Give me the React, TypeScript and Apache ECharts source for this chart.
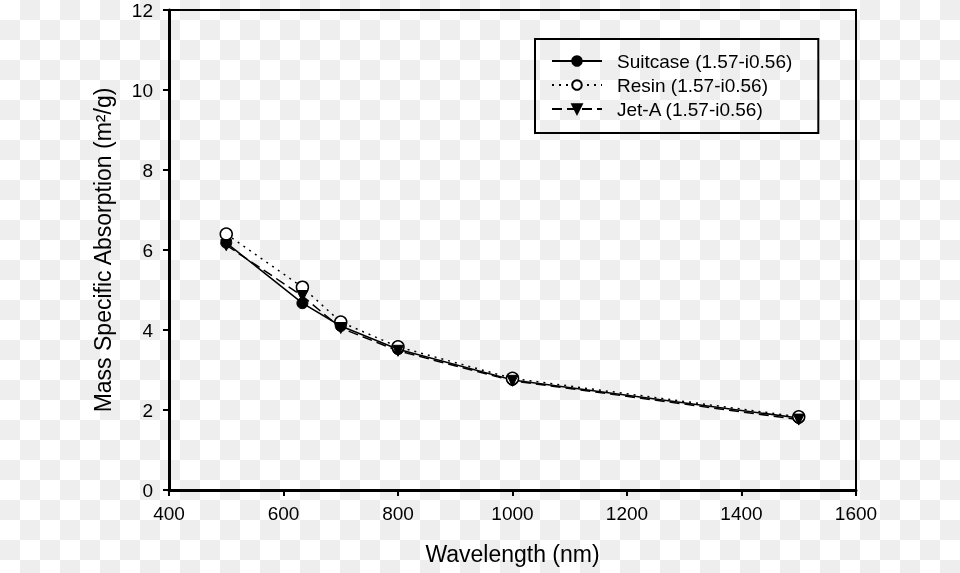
import React, { useEffect, useRef } from "react";
import * as echarts from "echarts";

const wavelengths = [500, 633, 700, 800, 1000, 1500];
const suitcase = [6.18, 4.67, 4.1, 3.52, 2.75, 1.8];
const resin = [6.4, 5.07, 4.2, 3.58, 2.79, 1.83];
const jetA = [6.12, 4.85, 4.05, 3.48, 2.73, 1.76];
const seriesNames = ["Suitcase (1.57-i0.56)", "Resin (1.57-i0.56)", "Jet-A (1.57-i0.56)"];
const xTitle = "Wavelength (nm)";
const yTitle = "Mass Specific Absorption (m²/g)";

const FONT = "'Liberation Sans', Arial, sans-serif";

export default function App() {
  const ref = useRef<HTMLDivElement>(null);
  useEffect(() => {
    if (!ref.current) return;
    const chart = echarts.init(ref.current, undefined, { renderer: "svg" });
    const pair = (ys: number[]) => wavelengths.map((x, i) => [x, ys[i]]);
    chart.setOption({
      animation: false,
      backgroundColor: "transparent",
      textStyle: { fontFamily: FONT, color: "#000" },
      grid: {
        left: 169,
        right: 104,
        top: 10,
        bottom: 83,
        show: true,
        borderColor: "#000",
        borderWidth: 2,
        backgroundColor: "transparent",
      },
      legend: {
        orient: "vertical",
        left: 535,
        top: 39,
        padding: [12, 26, 14, 16],
        itemWidth: 50,
        itemHeight: 12,
        itemGap: 4,
        borderColor: "#000",
        borderWidth: 2,
        textStyle: { fontFamily: FONT, fontSize: 19, color: "#000", lineHeight: 20, padding: [0, 0, 0, 10] },
        data: seriesNames,
      },
      xAxis: {
        type: "value",
        min: 400,
        max: 1600,
        interval: 200,
        name: xTitle,
        nameLocation: "middle",
        nameGap: 52,
        nameTextStyle: { fontFamily: FONT, fontSize: 23, color: "#000" },
        axisLine: { show: true, lineStyle: { color: "#000", width: 3 } },
        axisTick: { show: true, inside: false, length: 6, lineStyle: { color: "#000", width: 2 } },
        axisLabel: { margin: 14, fontFamily: FONT, fontSize: 19, color: "#000", formatter: (v: number) => String(v) },
        splitLine: { show: false },
      },
      yAxis: {
        type: "value",
        min: 0,
        max: 12,
        interval: 2,
        name: yTitle,
        nameLocation: "middle",
        nameGap: 55,
        nameTextStyle: { fontFamily: FONT, fontSize: 23, color: "#000" },
        axisLine: { show: true, lineStyle: { color: "#000", width: 3 } },
        axisTick: { show: true, inside: false, length: 6, lineStyle: { color: "#000", width: 2 } },
        axisLabel: { margin: 16, fontFamily: FONT, fontSize: 19, color: "#000", formatter: (v: number) => String(v) },
        splitLine: { show: false },
      },
      series: [
        {
          name: seriesNames[0],
          type: "line",
          data: pair(suitcase),
          symbol: "circle",
          symbolSize: 11,
          lineStyle: { color: "#000", width: 1.5, type: "solid" },
          itemStyle: { color: "#000", borderColor: "#000", borderWidth: 1 },
        },
        {
          name: seriesNames[1],
          type: "line",
          data: pair(resin),
          symbol: "circle",
          symbolSize: 12,
          lineStyle: { color: "#000", width: 1.5, type: [2, 5] },
          itemStyle: { color: "#fff", borderColor: "#000", borderWidth: 1.5 },
        },
        {
          name: seriesNames[2],
          type: "line",
          data: pair(jetA),
          symbol: "triangle",
          symbolRotate: 180,
          symbolSize: 11,
          lineStyle: { color: "#000", width: 1.5, type: [10, 5] },
          itemStyle: { color: "#000", borderColor: "#000", borderWidth: 1 },
        },
      ],
    });
    return () => chart.dispose();
  }, []);
  return (
    <div
      style={{
        position: "fixed",
        left: 0,
        top: 0,
        width: 960,
        height: 573,
        background: "repeating-conic-gradient(#eeeeee 0 25%, #ffffff 0 50%) 0 0 / 40px 40px",
      }}
    >
      <div ref={ref} style={{ width: 960, height: 573 }} />
    </div>
  );
}
